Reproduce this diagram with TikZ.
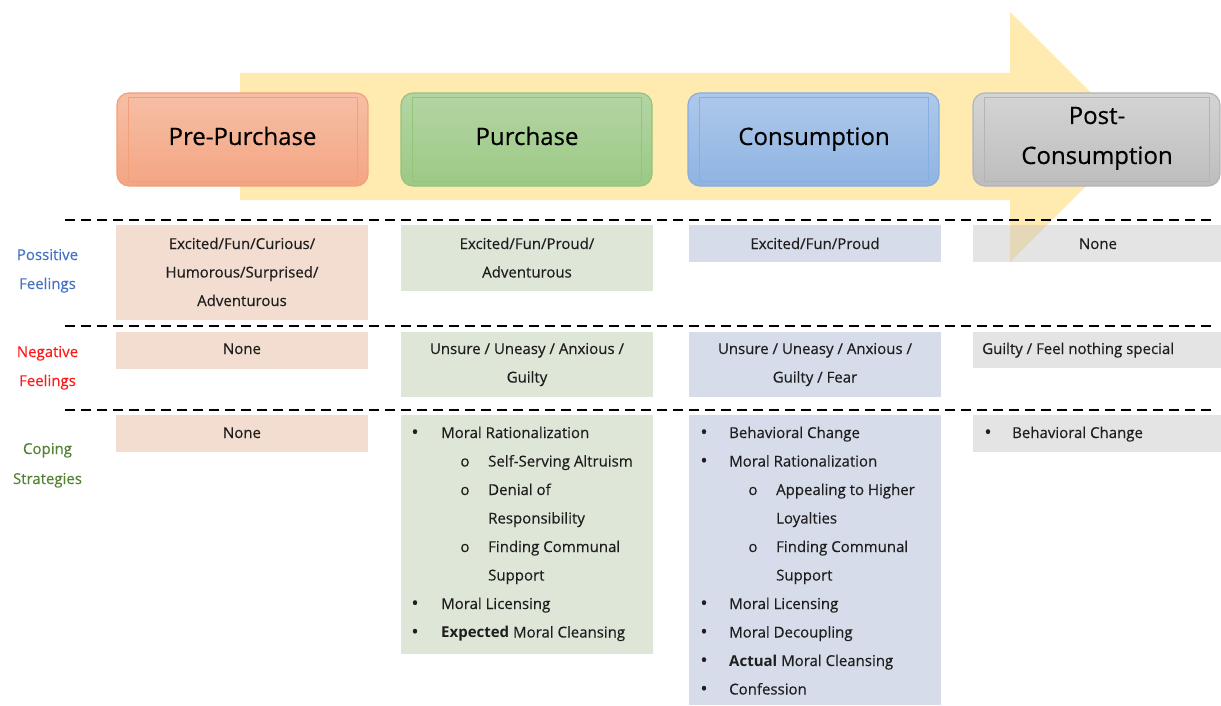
\documentclass[tikz,border=0pt]{standalone}
\usepackage{fontspec}
\setmainfont{Open Sans}[UprightFeatures={FakeBold=0.35}]
\definecolor{arrowc}{HTML}{FFEAB0}
\definecolor{h1t}{HTML}{F6BFA5}\definecolor{h1b}{HTML}{F4A583}\definecolor{h1d}{HTML}{F2A07A}
\definecolor{h2t}{HTML}{B3D5A3}\definecolor{h2b}{HTML}{9CC985}\definecolor{h2d}{HTML}{94C47A}
\definecolor{h3t}{HTML}{AEC8EB}\definecolor{h3b}{HTML}{8EB4E2}\definecolor{h3d}{HTML}{86AEE0}
\definecolor{h4t}{HTML}{D4D4D4}\definecolor{h4b}{HTML}{BDBDBD}\definecolor{h4d}{HTML}{B4B4B4}
\definecolor{c1}{HTML}{F2DDD0}
\definecolor{c2}{HTML}{DEE6D8}
\definecolor{c3}{HTML}{D6DCEA}
\definecolor{c4}{HTML}{C4C4C4}
\definecolor{txtc}{HTML}{1E1E1E}
\definecolor{posc}{HTML}{4472C4}
\definecolor{negc}{HTML}{FF1A1A}
\definecolor{copc}{HTML}{548235}
\begin{document}
\begin{tikzpicture}[x=1pt,y=-1pt,
  hdr/.style={rounded corners=12pt, minimum width=251pt, minimum height=93pt,
    inner sep=0pt, outer sep=0pt, anchor=north west, line width=1.2pt},
  inrect/.style={line width=0.7pt},
  cell/.style={anchor=north west, inner sep=0pt, outer sep=0pt, minimum width=252pt},
  txt/.style={font=\fontsize{15}{18}\selectfont, text=txtc, inner sep=0pt, anchor=base},
  ltxt/.style={txt, anchor=base west},
  bul/.style={txt, font=\fontsize{19}{19}\selectfont, anchor=center},
  sub/.style={txt, anchor=base},
  htxt/.style={font=\fontsize{24}{28}\selectfont\addfontfeature{FakeBold=0.8}, text=black, inner sep=0pt, anchor=base},
  sepline/.style={line width=2.5pt, dash pattern=on 10pt off 6pt},
]
\useasboundingbox (0,0) rectangle (1221,706);
\fill[white] (0,0) rectangle (1221,706);

% big arrow
\fill[arrowc] (240,73) -- (1010,73) -- (1010,12) -- (1135,137) -- (1010,262)
  -- (1010,200) -- (240,200) -- cycle;

% header boxes
\node[hdr, draw=h1d, top color=h1t, bottom color=h1b] (h1) at (117,93) {};
\node[hdr, draw=h2d, top color=h2t, bottom color=h2b] (h2) at (401,93) {};
\node[hdr, draw=h3d, top color=h3t, bottom color=h3b] (h3) at (688,93) {};
\node[hdr, draw=h4d, top color=h4t, bottom color=h4b, minimum width=247pt] (h4) at (973,93) {};
\foreach \h/\c in {h1/h1d,h2/h2d,h3/h3d,h4/h4d}{
  \draw[inrect, draw=\c] ([shift={(11,4)}]\h.north west) rectangle ([shift={(-11,-5)}]\h.south east);
}
\node[htxt] (ht1) at (242.5,145) {Pre-Purchase};
\node[htxt] (ht2) at (527,145) {Purchase};
\node[htxt] (ht3) at (814,145) {Consumption};
\node[htxt] (ht4a) at (1097,124) {Post-};
\node[htxt] (ht4b) at (1097,164) {Consumption};

% cells
\node[cell, fill=c1, minimum height=95pt] (p1) at (116,225) {};
\node[cell, fill=c2, minimum height=66pt] (p2) at (401,225) {};
\node[cell, fill=c3, minimum height=37pt] (p3) at (689,225) {};
\node[cell, fill=c4, fill opacity=0.45, minimum height=37pt, minimum width=248pt] (p4) at (973,225) {};

\node[cell, fill=c1, minimum height=37pt] (n1) at (116,332) {};
\node[cell, fill=c2, minimum height=65pt] (n2) at (401,332) {};
\node[cell, fill=c3, minimum height=65pt] (n3) at (689,332) {};
\node[cell, fill=c4, fill opacity=0.45, minimum height=36pt, minimum width=248pt] (n4) at (973,332) {};

\node[cell, fill=c1, minimum height=37pt] (k1) at (116,415) {};
\node[cell, fill=c2, minimum height=239pt] (k2) at (401,415) {};
\node[cell, fill=c3, minimum height=290pt] (k3) at (689,415) {};
\node[cell, fill=c4, fill opacity=0.45, minimum height=37pt, minimum width=248pt] (k4) at (973,415) {};

% dashed separators
\coordinate (s1a) at (65,220); \coordinate (s1b) at (1215,220);
\coordinate (s2a) at (65,326); \coordinate (s2b) at (1215,326);
\coordinate (s3a) at (65,410); \coordinate (s3b) at (1215,410);
\draw[sepline] (s1a) -- (s1b);
\draw[sepline] (s2a) -- (s2b);
\draw[sepline] (s3a) -- (s3b);

% row labels
\node[txt, text=posc] (l1a) at (47.5,260) {Possitive};
\node[txt, text=posc] (l1b) at (47.5,289) {Feelings};
\node[txt, text=negc] (l2a) at (47.5,357) {Negative};
\node[txt, text=negc] (l2b) at (47.5,386) {Feelings};
\node[txt, text=copc] (l3a) at (47.5,454) {Coping};
\node[txt, text=copc] (l3b) at (47.5,484) {Strategies};

% positive feelings
\node[txt] (pa1) at (242,249) {Excited/Fun/Curious/};
\node[txt] (pa2) at (242,277.5) {Humorous/Surprised/};
\node[txt] (pa3) at (242,306) {Adventurous};
\node[txt] (pb1) at (527,249) {Excited/Fun/Proud/};
\node[txt] (pb2) at (527,277.5) {Adventurous};
\node[txt] (pc1) at (815,249) {Excited/Fun/Proud};
\node[txt] (pd1) at (1098,249) {None};

% negative feelings
\node[txt] (na1) at (242,354) {None};
\node[txt] (nb1) at (527,354) {Unsure / Uneasy / Anxious /};
\node[txt] (nb2) at (527,382.5) {Guilty};
\node[txt] (nc1) at (815,354) {Unsure / Uneasy / Anxious /};
\node[txt] (nc2) at (815,382.5) {Guilty / Fear};
\node[ltxt] (nd1) at (982,354) {Guilty / Feel nothing special};

% coping strategies
\node[txt] (ka1) at (242,438) {None};

\node[bul] (kb1b) at (415,434) {•};   \node[ltxt] (kb1) at (441,438) {Moral Rationalization};
\node[sub] (kb2b) at (465,466.5) {o}; \node[ltxt] (kb2) at (488,466.5) {Self-Serving Altruism};
\node[sub] (kb3b) at (465,495) {o};   \node[ltxt] (kb3) at (488,495) {Denial of};
\node[ltxt] (kb4) at (488,523.5) {Responsibility};
\node[sub] (kb5b) at (465,552) {o};   \node[ltxt] (kb5) at (488,552) {Finding Communal};
\node[ltxt] (kb6) at (488,580.5) {Support};
\node[bul] (kb7b) at (415,605) {•};   \node[ltxt] (kb7) at (441,609) {Moral Licensing};
\node[bul] (kb8b) at (415,633.5) {•}; \node[ltxt] (kb8) at (441,637.5) {\textbf{Expected} Moral Cleansing};

\node[bul] (kc1b) at (704,434) {•};    \node[ltxt] (kc1) at (729,438) {Behavioral Change};
\node[bul] (kc2b) at (704,462.5) {•};  \node[ltxt] (kc2) at (729,466.5) {Moral Rationalization};
\node[sub] (kc3b) at (753,495) {o};    \node[ltxt] (kc3) at (776,495) {Appealing to Higher};
\node[ltxt] (kc4) at (776,523.5) {Loyalties};
\node[sub] (kc5b) at (753,552) {o};    \node[ltxt] (kc5) at (776,552) {Finding Communal};
\node[ltxt] (kc6) at (776,580.5) {Support};
\node[bul] (kc7b) at (704,605) {•};    \node[ltxt] (kc7) at (729,609) {Moral Licensing};
\node[bul] (kc8b) at (704,633.5) {•};  \node[ltxt] (kc8) at (729,637.5) {Moral Decoupling};
\node[bul] (kc9b) at (704,662) {•};    \node[ltxt] (kc9) at (729,666) {\textbf{Actual} Moral Cleansing};
\node[bul] (kc10b) at (704,690.5) {•}; \node[ltxt] (kc10) at (729,694.5) {Confession};

\node[bul] (kd1b) at (988,434) {•};    \node[ltxt] (kd1) at (1012,438) {Behavioral Change};
\end{tikzpicture}
\end{document}
